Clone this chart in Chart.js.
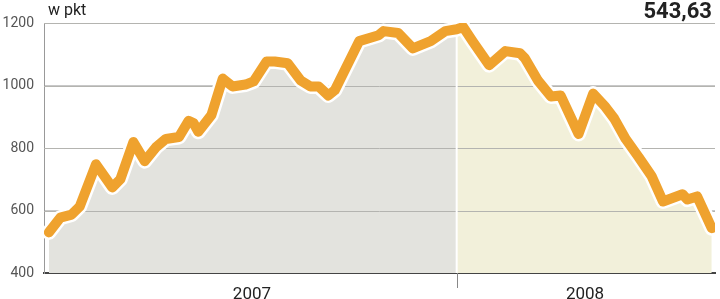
<!DOCTYPE html>
<html>
<head>
<meta charset="utf-8">
<script src="https://cdn.jsdelivr.net/npm/chart.js@4"></script>
<style>
  html, body { margin: 0; padding: 0; background: #fff; }
  #wrap { position: relative; width: 720px; height: 299px; }
  #unit { position: absolute; left: 48px; top: 0px; font: 16px Roboto, sans-serif; color: #222; }
  #last { position: absolute; right: 8px; top: -2px; font: bold 22px Roboto, sans-serif; color: #222; }
</style>
</head>
<body>
<div id="wrap">
  <canvas id="chart" width="720" height="299"></canvas>
  <div id="unit">w pkt</div>
  <div id="last">543,63</div>
</div>
<script>
// sesje od początku 2007 i wartości indeksu (punkty załamania linii)
const sessions = [0, 7, 14, 19, 29, 39, 44, 52, 59, 66, 72, 80, 86, 89, 92, 100, 107, 113, 121, 126,
  134, 139, 147, 155, 161, 166, 172, 176, 191, 203, 206, 215, 224, 235, 244, 251, 255, 261, 271, 281,
  290, 293, 301, 309, 315, 326, 335, 342, 348, 355, 363, 371, 378, 390, 393, 399, 408];
const values = [530, 577, 587, 613, 748, 674, 700, 819, 758, 803, 829, 835, 887, 880, 852, 905, 1022, 997, 1003, 1013,
  1077, 1077, 1071, 1016, 997, 997, 968, 985, 1142, 1161, 1174, 1168, 1119, 1142, 1174, 1180, 1187, 1140, 1065, 1110,
  1103, 1087, 1016, 965, 968, 845, 974, 935, 894, 829, 771, 710, 629, 652, 635, 645, 543.63];
const yearBreak = 251;
const yearLabels = ['2007', '2008'];
const yearMids = [125, 330];
const yTicks = [400, 600, 800, 1000, 1200];

const points = sessions.map((s, i) => ({ x: s, y: values[i] }));
const pts2007 = points.filter((p) => p.x <= yearBreak);
const pts2008 = points.filter((p) => p.x >= yearBreak);

// linie siatki nad wypełnieniem + biała kreska między latami
const overlay = {
  id: 'overlay',
  beforeDatasetDraw(chart, args) {
    if (args.index !== 1) return;
    const { ctx, chartArea, scales } = chart;
    ctx.save();
    ctx.strokeStyle = '#b4b4b0';
    ctx.lineWidth = 1;
    yTicks.slice(1).forEach((v) => {
      const y = Math.round(scales.y.getPixelForValue(v)) + 0.5;
      ctx.beginPath();
      ctx.moveTo(chartArea.left, y);
      ctx.lineTo(chartArea.right, y);
      ctx.stroke();
    });
    const x = scales.x.getPixelForValue(yearBreak);
    ctx.strokeStyle = '#fff';
    ctx.lineWidth = 2;
    ctx.beginPath();
    ctx.moveTo(x, chartArea.top);
    ctx.lineTo(x, chartArea.bottom);
    ctx.stroke();
    // kreska podziałki pod osią
    ctx.strokeStyle = '#888';
    ctx.lineWidth = 1;
    ctx.beginPath();
    ctx.moveTo(Math.round(x) + 0.5, chartArea.bottom);
    ctx.lineTo(Math.round(x) + 0.5, chartArea.bottom + 15);
    ctx.stroke();
    ctx.restore();
  },
};

new Chart(document.getElementById('chart'), {
  type: 'line',
  data: {
    datasets: [
      { data: points, borderColor: '#efa22e', borderWidth: 10, fill: false },
      { data: points, borderColor: '#ffffff', borderWidth: 15, fill: false },
      { data: pts2008, borderWidth: 0, borderColor: 'transparent', backgroundColor: '#f2f0da', fill: 'start' },
      { data: pts2007, borderWidth: 0, borderColor: 'transparent', backgroundColor: '#e3e3de', fill: 'start' },
    ],
  },
  options: {
    responsive: false,
    animation: false,
    layout: { padding: { top: 23, right: 5, bottom: 0, left: 0 } },
    elements: {
      point: { radius: 0 },
      line: { tension: 0, borderJoinStyle: 'round', borderCapStyle: 'round' },
    },
    plugins: { legend: { display: false }, tooltip: { enabled: false } },
    scales: {
      x: {
        type: 'linear',
        min: -3,
        max: 410,
        afterBuildTicks: (axis) => { axis.ticks = yearMids.map((v) => ({ value: v })); },
        afterFit: (axis) => { axis.height = 26; },
        ticks: {
          callback: (v) => yearLabels[yearMids.indexOf(v)],
          color: '#222',
          font: { family: 'Roboto', size: 17 },
          padding: 4,
          maxRotation: 0,
        },
        grid: { display: false },
        border: { display: true, color: '#444', width: 2 },
      },
      y: {
        min: 400,
        max: 1200,
        afterBuildTicks: (axis) => { axis.ticks = yTicks.map((v) => ({ value: v })); },
        afterFit: (axis) => { axis.width = 44; },
        ticks: {
          callback: (v) => String(v),
          color: '#555',
          font: { family: 'Roboto', size: 14 },
          padding: 10,
        },
        grid: { color: '#c8c8c8', drawTicks: false },
        border: { display: true, color: '#999', width: 1 },
      },
    },
  },
  plugins: [overlay],
});
</script>
</body>
</html>
